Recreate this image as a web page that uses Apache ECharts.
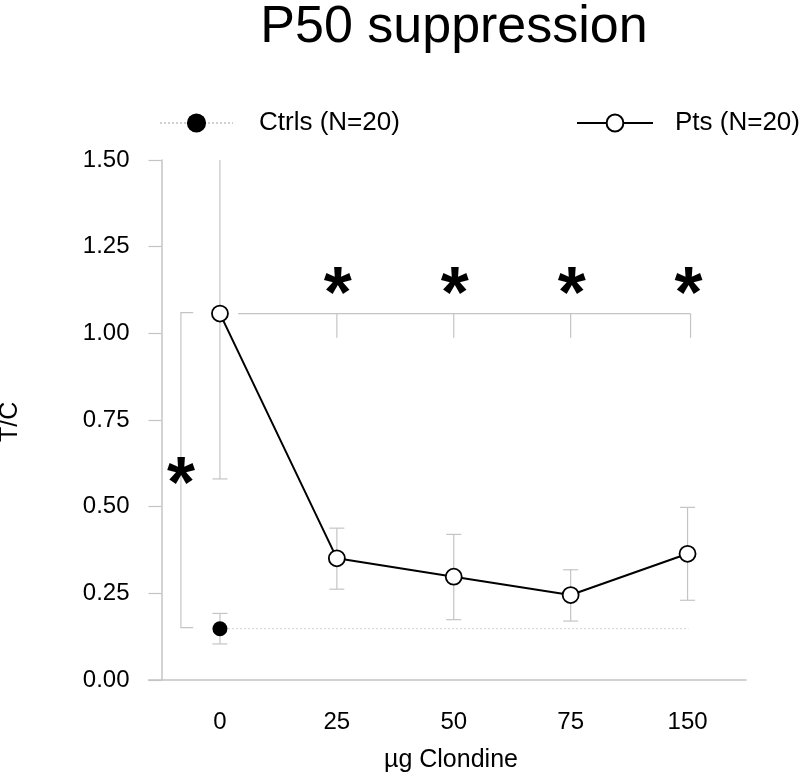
<!DOCTYPE html>
<html><head><meta charset="utf-8">
<script src="https://cdn.jsdelivr.net/npm/echarts@6/dist/echarts.min.js"></script>
<style>html,body{margin:0;padding:0;background:#fff}#c{width:800px;height:774px}</style>
</head><body><div id="c"></div>
<script>
const categories = ['0', '25', '50', '75', '150'];
const ptsMean = [1.057, 0.351, 0.298, 0.245, 0.364];
const ptsLow  = [0.580, 0.262, 0.174, 0.170, 0.230];
const ptsHigh = [1.620, 0.438, 0.420, 0.318, 0.498];
const ctrlMean = [0.148];
const ctrlLow  = [0.104];
const ctrlHigh = [0.192];
const sigIndices = [1, 2, 3, 4];
const starLevel = 1.105;
const tickDepth = 0.07;
const Y_MIN = 0, Y_MAX = 1.5, Y_INT = 0.25;

const FONT = 'Liberation Sans';
const GRAY = '#c4c4c4';
const chart = echarts.init(document.getElementById('c'));

function errData(means, lows, highs) {
  return means.map((m, i) => [i, lows[i], highs[i]]);
}
function errRender(params, api) {
  const x = api.value(0), lo = api.value(1), hi = api.value(2);
  const top = Math.min(hi, Y_MAX);
  const pLo = api.coord([x, lo]);
  const pHi = api.coord([x, top]);
  const half = 7.5;
  const st = { stroke: GRAY, lineWidth: 1.2 };
  const ch = [
    { type: 'line', shape: { x1: pLo[0], y1: pLo[1], x2: pHi[0], y2: pHi[1] }, style: st },
    { type: 'line', shape: { x1: pLo[0] - half, y1: pLo[1], x2: pLo[0] + half, y2: pLo[1] }, style: st }
  ];
  if (hi <= Y_MAX) ch.push({ type: 'line', shape: { x1: pHi[0] - half, y1: pHi[1], x2: pHi[0] + half, y2: pHi[1] }, style: st });
  return { type: 'group', children: ch };
}
function bracketRender(params, api) {
  const band = api.size([1, 0])[0];
  const ch = [];
  const p0 = api.coord([0, ptsMean[0]]);
  const pEnd = api.coord([categories.length - 1, ptsMean[0]]);
  const st = { stroke: GRAY, lineWidth: 1.2 };
  ch.push({ type: 'line', shape: { x1: p0[0] + 0.155 * band, y1: p0[1], x2: pEnd[0] + 3, y2: p0[1] }, style: st });
  sigIndices.forEach(i => {
    const a = api.coord([i, ptsMean[0]]);
    const b = api.coord([i, ptsMean[0] - tickDepth]);
    const xx = i === categories.length - 1 ? a[0] + 3 : a[0];
    ch.push({ type: 'line', shape: { x1: xx, y1: a[1], x2: xx, y2: b[1] }, style: st });
    const s = api.coord([i, starLevel]);
    ch.push({ type: 'text', x: s[0] + 1, y: s[1], style: { text: '*', font: 'bold 72px ' + FONT, fill: '#000', align: 'center', verticalAlign: 'middle' } });
  });
  const c0 = api.coord([0, ctrlMean[0]]);
  ch.push({ type: 'line', shape: { x1: c0[0], y1: c0[1], x2: pEnd[0] + 1, y2: c0[1] }, style: { stroke: '#d0d0d0', lineWidth: 1, lineDash: [2, 2] } });
  const bx = p0[0] - 0.334 * band;
  ch.push({ type: 'polyline', shape: { points: [[bx + 0.105 * band, p0[1] - 1], [bx, p0[1] - 1], [bx, c0[1] - 1], [bx + 0.105 * band, c0[1] - 1]] }, style: { stroke: GRAY, lineWidth: 1.2, fill: null } });
  const mid = api.coord([0, (ptsMean[0] + ctrlMean[0]) / 2]);
  ch.push({ type: 'text', x: bx, y: mid[1] + 16, style: { text: '*', font: 'bold 72px ' + FONT, fill: '#000', align: 'center', verticalAlign: 'middle' } });
  return { type: 'group', children: ch };
}

const option = {
  animation: false,
  backgroundColor: '#fff',
  textStyle: { fontFamily: FONT },
  title: {
    text: 'P50 suppression', left: 449, top: -3, textAlign: 'center',
    textStyle: { fontFamily: FONT, fontSize: 52, fontWeight: 'normal', color: '#000' }
  },
  legend: [
    { data: ['Ctrls (N=20)'], left: 154, top: 105, itemWidth: 73, itemHeight: 24,
      textStyle: { fontFamily: FONT, fontSize: 26, color: '#000', padding: [0, 0, 0, 21] } },
    { data: ['Pts (N=20)'], left: 571, top: 105, itemWidth: 76, itemHeight: 21,
      textStyle: { fontFamily: FONT, fontSize: 26, color: '#000', padding: [0, 0, 0, 17] } }
  ],
  grid: { left: 161.5, right: 54, top: 160, bottom: 94 },
  xAxis: {
    type: 'category', data: categories, boundaryGap: true,
    axisLine: { lineStyle: { color: GRAY, width: 1.5 } },
    axisTick: { alignWithLabel: true, length: 13, lineStyle: { color: GRAY, width: 1.2 } },
    axisLabel: { fontFamily: FONT, fontSize: 24, color: '#000', margin: 30 },
    splitLine: { show: false }
  },
  yAxis: {
    type: 'value', min: Y_MIN, max: Y_MAX, interval: Y_INT,
    axisLine: { show: true, lineStyle: { color: GRAY, width: 1.5 } },
    axisTick: { show: true, length: 13, lineStyle: { color: GRAY, width: 1.2 } },
    axisLabel: { fontFamily: FONT, fontSize: 24, color: '#000', margin: 32, formatter: v => v.toFixed(2) },
    splitLine: { show: false }
  },
  graphic: [
    { type: 'text', left: 384, top: 748, style: { text: 'µg Clondine', font: '25px ' + FONT, fill: '#000' } },
    { type: 'text', rotation: Math.PI / 2, x: -2, y: 442, style: { text: 'T/C', font: '25px ' + FONT, fill: '#000' } }
  ],
  series: [
    { name: 'brackets', type: 'custom', data: [[0]], renderItem: bracketRender, z: 1, silent: true },
    { name: 'ptsErr', type: 'custom', data: errData(ptsMean, ptsLow, ptsHigh), renderItem: errRender, encode: { x: 0, y: [1, 2] }, z: 2, silent: true },
    { name: 'ctrlErr', type: 'custom', data: errData(ctrlMean, ctrlLow, ctrlHigh), renderItem: errRender, encode: { x: 0, y: [1, 2] }, z: 2, silent: true },
    { name: 'Ctrls (N=20)', type: 'line', data: ctrlMean, symbol: 'circle', symbolSize: 15,
      itemStyle: { color: '#000' }, lineStyle: { color: '#cfcfcf', width: 1, type: 'dotted' }, z: 5 },
    { name: 'Pts (N=20)', type: 'line', data: ptsMean, symbol: 'circle', symbolSize: 16,
      itemStyle: { color: '#fff', borderColor: '#000', borderWidth: 1.8 },
      lineStyle: { color: '#000', width: 2 }, z: 5 }
  ]
};
chart.setOption(option);
const yZero = chart.convertToPixel({ yAxisIndex: 0 }, 0);
chart.setOption({ graphic: option.graphic.concat([
  { type: 'line', shape: { x1: 148, y1: yZero, x2: 162, y2: yZero }, style: { stroke: GRAY, lineWidth: 1.5 } }
]) });
</script></body></html>
